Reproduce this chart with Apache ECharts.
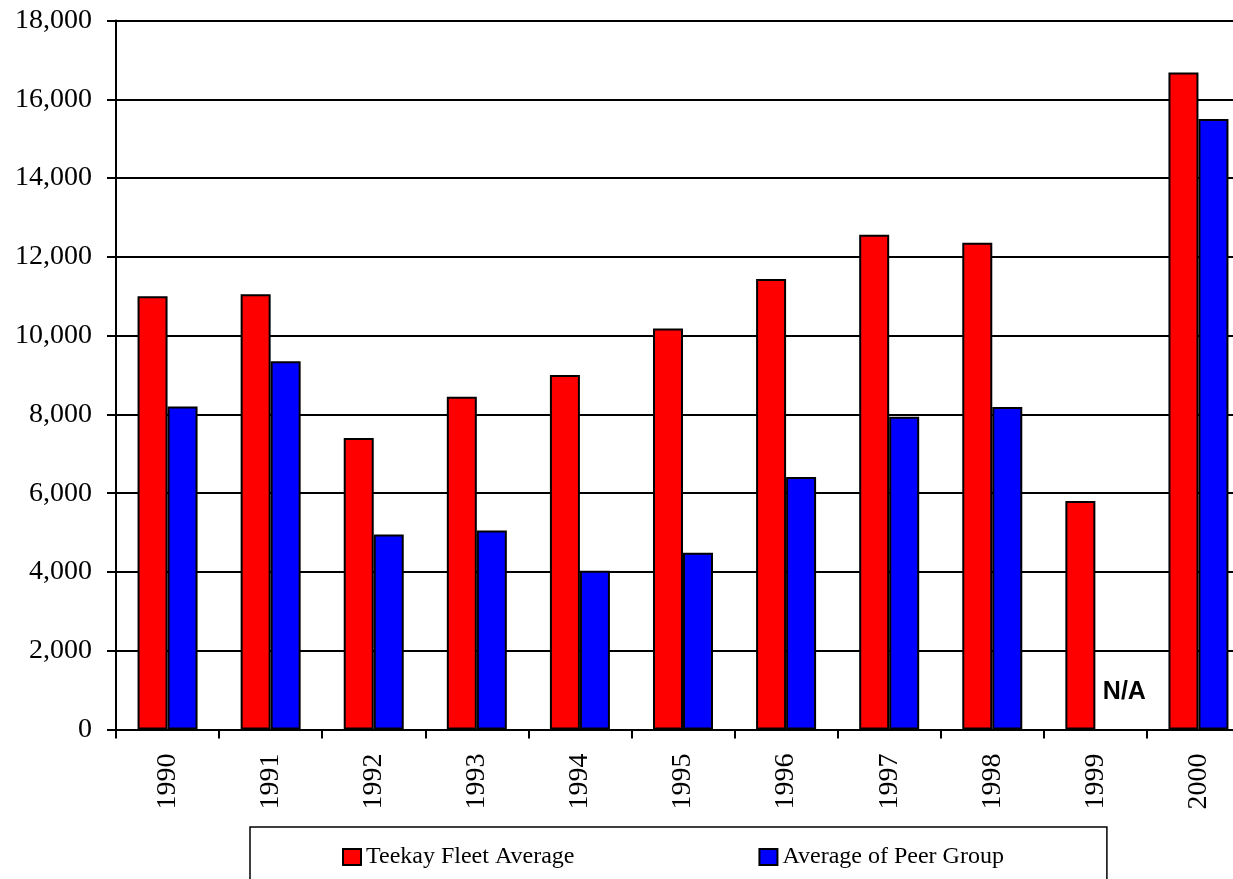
<!DOCTYPE html>
<html>
<head>
<meta charset="utf-8">
<script src="https://cdn.jsdelivr.net/npm/echarts@6/dist/echarts.min.js"></script>
<style>
html,body{margin:0;padding:0;background:#fff;}
#chart{width:1233px;height:879px;}
</style>
</head>
<body>
<div id="chart"></div>
<script>
const years = ['1990','1991','1992','1993','1994','1995','1996','1997','1998','1999','2000'];
const teekayFleet = [11000, 11050, 7400, 8450, 9000, 10180, 11440, 12560, 12360, 5800, 16680];
const peerGroup = [8200, 9350, 4950, 5050, 4030, 4490, 6410, 7940, 8190, null, 15500];
const seriesNames = ['Teekay Fleet Average', 'Average of Peer Group'];
const yTicks = { min: 0, max: 18000, interval: 2000 };

const serif = 'Liberation Serif, Times New Roman, serif';

const peerData = peerGroup.map(v => v === null ? {
  value: 0,
  itemStyle: { color: 'rgba(0,0,0,0)', borderWidth: 0 },
  label: {
    show: true, formatter: 'N/A', position: [29, -37],
    align: 'center', verticalAlign: 'middle',
    fontFamily: 'Liberation Sans, Arial, sans-serif', fontWeight: 'bold',
    fontSize: 25, color: '#000'
  }
} : v);

const chart = echarts.init(document.getElementById('chart'));
chart.setOption({
  animation: false,
  backgroundColor: '#fff',
  grid: { left: 116, width: 1134, top: 20.5, bottom: 149.5, containLabel: false, outerBoundsMode: 'none' },
  legend: {
    data: seriesNames,
    icon: 'rect',
    left: 250, top: 827,
    padding: [18, 103, 40, 92],
    itemGap: 184,
    itemWidth: 18, itemHeight: 16,
    borderColor: '#000', borderWidth: 1.5,
    textStyle: { fontFamily: serif, fontSize: 24, color: '#000' }
  },
  xAxis: {
    type: 'category',
    data: years,
    axisLine: { show: true, lineStyle: { color: '#000', width: 2 } },
    axisTick: { show: true, length: 9, lineStyle: { color: '#000', width: 2 } },
    axisLabel: { rotate: 90, interval: 0, margin: 24, fontFamily: serif, fontSize: 28, color: '#000' },
    splitLine: { show: false }
  },
  yAxis: {
    type: 'value',
    min: yTicks.min, max: yTicks.max, interval: yTicks.interval,
    axisLine: { show: true, lineStyle: { color: '#000', width: 2 } },
    axisTick: { show: true, length: 9, lineStyle: { color: '#000', width: 2 } },
    axisLabel: {
      margin: 24, fontFamily: serif, fontSize: 28, color: '#000',
      formatter: v => v.toLocaleString('en-US')
    },
    splitLine: { show: true, lineStyle: { color: '#000', width: 2 } }
  },
  series: [
    {
      name: seriesNames[0], type: 'bar', data: teekayFleet,
      barWidth: 30, barGap: '0%',
      itemStyle: { color: '#FF0000', borderColor: '#000', borderWidth: 2 }
    },
    {
      name: seriesNames[1], type: 'bar', data: peerData,
      barWidth: 30, barGap: '0%',
      itemStyle: { color: '#0000FF', borderColor: '#000', borderWidth: 2 }
    }
  ]
});
</script>
</body>
</html>
